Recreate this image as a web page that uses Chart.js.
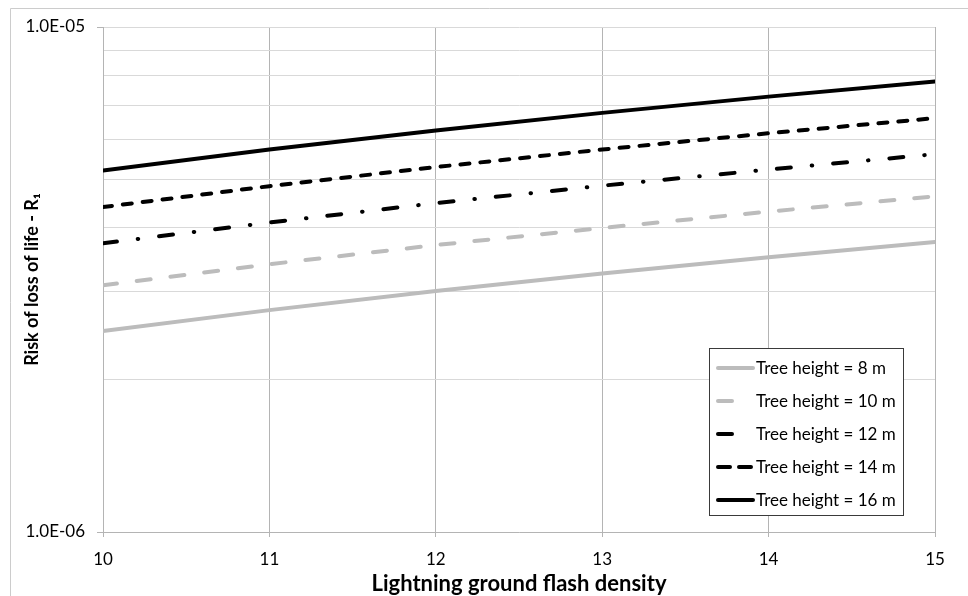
<!DOCTYPE html>
<html>
<head>
<meta charset="utf-8">
<script src="https://cdn.jsdelivr.net/npm/chart.js@4/dist/chart.umd.min.js"></script>
<style>
  html, body { margin: 0; padding: 0; background: #fff; }
  canvas { display: block; }
</style>
</head>
<body>
<canvas id="c" width="968" height="596"></canvas>
<script>
// Lightning ground flash density (x) and risk of loss of life R1 per tree height
const flashDensity = [10, 11, 12, 13, 14, 15];
const risk8m  = [2.50e-6, 2.75e-6, 3.00e-6, 3.25e-6, 3.50e-6, 3.75e-6];
const risk10m = [3.08e-6, 3.39e-6, 3.70e-6, 4.00e-6, 4.31e-6, 4.62e-6];
const risk12m = [3.73e-6, 4.10e-6, 4.48e-6, 4.85e-6, 5.22e-6, 5.60e-6];
const risk14m = [4.40e-6, 4.84e-6, 5.28e-6, 5.72e-6, 6.16e-6, 6.60e-6];
const risk16m = [5.20e-6, 5.72e-6, 6.24e-6, 6.76e-6, 7.28e-6, 7.80e-6];
const seriesLabels = ['Tree height = 8 m', 'Tree height = 10 m', 'Tree height = 12 m', 'Tree height = 14 m', 'Tree height = 16 m'];
const yTickLabels = { '-6': '1.0E-06', '-5': '1.0E-05' };

const FONT = 'Lato, "Open Sans", sans-serif';
const GREY = '#bcbcbc';

function toPoints(values) {
  return flashDensity.map((x, i) => ({ x: x, y: values[i] }));
}

// line style per series; sampleLen is the length of the key line in the legend box
const styles = [
  { color: GREY,   dash: [],                sampleLen: 37 },
  { color: GREY,   dash: [14, 20],          sampleLen: 18 },
  { color: '#000', dash: [14, 21, 0.5, 21], sampleLen: 18 },
  { color: '#000', dash: [12, 9],           sampleLen: 35 },
  { color: '#000', dash: [],                sampleLen: 37 }
];
const plotDash = [[], [14, 20], [14, 21, 0.5, 21], [9, 11], []];
const seriesValues = [risk8m, risk10m, risk12m, risk14m, risk16m];

const datasets = seriesValues.map((vals, i) => ({
  label: seriesLabels[i],
  data: toPoints(vals),
  borderColor: styles[i].color,
  backgroundColor: styles[i].color,
  borderWidth: 4,
  borderDash: plotDash[i],
  borderCapStyle: 'round',
  pointRadius: 0,
  fill: false,
  tension: 0
}));

// Outer frame of the chart
const framePlugin = {
  id: 'frame',
  beforeDraw(chart) {
    const ctx = chart.ctx;
    ctx.save();
    ctx.fillStyle = '#fff';
    ctx.fillRect(0, 0, chart.width, chart.height);
    ctx.strokeStyle = '#cccccc';
    ctx.lineWidth = 1;
    ctx.beginPath();
    ctx.moveTo(10.5, chart.height);
    ctx.lineTo(10.5, 8.5);
    ctx.lineTo(chart.width, 8.5);
    ctx.stroke();
    ctx.restore();
  }
};

// Boxed legend inside the plot area, lower right
const boxLegendPlugin = {
  id: 'boxLegend',
  afterDraw(chart) {
    const ctx = chart.ctx;
    const area = chart.chartArea;
    const w = 194, h = 167;
    const x0 = Math.round(area.right - 32 - w);
    const y0 = Math.round(area.bottom - 17 - h);
    ctx.save();
    ctx.fillStyle = '#fff';
    ctx.fillRect(x0, y0, w, h);
    ctx.strokeStyle = '#3a3a3a';
    ctx.lineWidth = 1;
    ctx.strokeRect(x0 + 0.5, y0 + 0.5, w, h);
    ctx.font = '17px ' + FONT;
    ctx.textBaseline = 'middle';
    ctx.textAlign = 'left';
    chart.data.datasets.forEach((ds, i) => {
      const cy = y0 + 20 + i * 33;
      const st = styles[i];
      ctx.save();
      ctx.strokeStyle = ds.borderColor;
      ctx.lineWidth = ds.borderWidth;
      ctx.lineCap = 'round';
      ctx.setLineDash(st.dash);
      ctx.beginPath();
      ctx.moveTo(x0 + 9, cy);
      ctx.lineTo(x0 + 9 + st.sampleLen - 2, cy);
      ctx.stroke();
      ctx.restore();
      ctx.fillStyle = '#000';
      ctx.fillText(ds.label, x0 + 47, cy + 1);
    });
    ctx.restore();
  }
};

function isDecade(v) {
  const l = Math.log10(v);
  return Math.abs(l - Math.round(l)) < 1e-9;
}

new Chart(document.getElementById('c'), {
  type: 'line',
  data: { datasets: datasets },
  plugins: [framePlugin, boxLegendPlugin],
  options: {
    responsive: false,
    animation: false,
    events: [],
    layout: { padding: { left: 0, right: 33, top: 27, bottom: 0 } },
    plugins: {
      legend: { display: false },
      tooltip: { enabled: false }
    },
    scales: {
      x: {
        type: 'linear',
        min: 10,
        max: 15,
        afterFit(scale) { scale.height = 64; },
        ticks: {
          stepSize: 1,
          color: '#000',
          padding: 12,
          font: { family: FONT, size: 17 }
        },
        grid: {
          color: '#b4b4b4',
          tickColor: '#b4b4b4',
          tickLength: 5,
          lineWidth: 1
        },
        border: { color: '#b4b4b4' },
        title: {
          display: true,
          text: 'Lightning ground flash density',
          color: '#000',
          font: { family: FONT, size: 22, weight: 'bold', lineHeight: 1 },
          padding: { top: 0, bottom: 1 }
        }
      },
      y: {
        type: 'logarithmic',
        min: 1e-6,
        max: 1e-5,
        afterFit(scale) { scale.width = 103; },
        afterBuildTicks(scale) {
          scale.ticks = [1, 2, 3, 4, 5, 6, 7, 8, 9, 10].map(m => ({ value: m * 1e-6, major: m === 1 || m === 10 }));
        },
        ticks: {
          autoSkip: false,
          color: '#000',
          padding: 12,
          font: { family: FONT, size: 17 },
          callback(value) {
            if (!isDecade(value)) return '';
            return yTickLabels[String(Math.round(Math.log10(value)))];
          }
        },
        grid: {
          color: '#d9d9d9',
          tickLength: 6,
          tickColor(ctx) {
            return ctx.tick && isDecade(ctx.tick.value) ? '#b4b4b4' : 'rgba(0,0,0,0)';
          }
        },
        border: { color: '#b4b4b4' },
        title: {
          display: true,
          text: 'Risk of loss of life - R\u2081',
          color: '#000',
          font: { family: FONT, size: 18, weight: 'bold', lineHeight: 1 },
          padding: { top: 23, bottom: 0 }
        }
      }
    }
  }
});
</script>
</body>
</html>
